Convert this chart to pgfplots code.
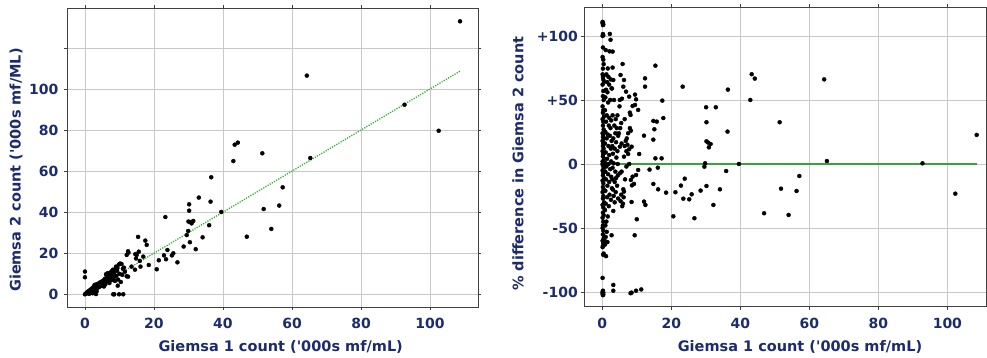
\documentclass[border=0pt]{standalone}
\usepackage{pgfplots}
\pgfplotsset{compat=1.18}
\usepackage{fontspec}
\setmainfont{DejaVu Sans}
\definecolor{navy}{RGB}{28,42,110}
\definecolor{gridc}{RGB}{200,200,200}
\definecolor{axc}{RGB}{64,64,64}
\definecolor{lgreen}{RGB}{50,175,50}
\definecolor{dgreen}{RGB}{60,160,60}

\begin{document}
\begin{tikzpicture}
\useasboundingbox (0,0) rectangle (987pt,358pt);
\pgfplotsset{
  every axis/.append style={
    scale only axis,
    anchor=south west,
    axis line style={axc, line width=0.9pt},
    grid=major,
    major grid style={gridc, line width=0.8pt},
    tick align=outside,
    major tick length=3pt,
    tick style={axc, line width=0.8pt},
    /pgf/number format/assume math mode=true,
    ticklabel style={font=\fontsize{14}{14}\selectfont\bfseries, text=navy},
    label style={font=\fontsize{14.5}{14.5}\selectfont\bfseries, text=navy},
    xticklabel style={yshift=-5pt},
    clip=false,
  },
}
% ---------------- left panel ----------------
\begin{axis}[
  at={(67pt,51pt)}, width=411pt, height=299pt,
  xmin=-5.2, xmax=113.9, ymin=-6.2, ymax=139.7,
  xtick={0,20,40,60,80,100},
  ytick={0,20,40,60,80,100,120},
  yticklabels={0,20,40,60,80,100,{}},
  yticklabel style={xshift=-2pt},
  xlabel={Giemsa 1 count (\textquotesingle000s mf/mL)},
  ylabel={Giemsa 2 count (\textquotesingle000s mf/ML)},
  xlabel style={at={(axis description cs:0.52,-0.134)}, anchor=center},
  ylabel style={at={(axis description cs:-0.124,0.458)}, anchor=center},
]
\addplot[lgreen, line width=1.3pt, dash pattern=on 1.2pt off 1.3pt] coordinates {(0,0) (108.7,108.9)};
\addplot[only marks, mark=*, mark size=2pt, mark options={fill=black, draw=black}] coordinates {
(108.7,133.2) (64.3,106.7) (92.6,92.5) (102.5,79.8) (65.3,66.5) (44.3,74.0) (43.4,73.0) (43.0,65.0)
(51.4,68.8) (36.6,57.1) (57.3,52.2) (56.3,43.3) (51.8,41.6) (54.0,31.9) (46.9,28.1) (39.5,40.2)
(36.4,45.2) (36.0,33.7) (33.0,47.2) (30.2,43.9) (30.2,40.8) (30.0,35.5) (30.7,35.2) (31.4,35.8)
(30.9,34.6) (29.9,30.9) (29.5,28.9) (30.4,25.4) (34.1,27.8) (32.1,22.0) (28.6,23.3) (23.3,37.7)
(26.8,15.6) (25.6,20.0) (25.2,19.0) (23.9,21.6) (22.9,19.0) (23.5,17.1) (21.4,16.6) (20.8,12.2)
(18.5,14.3) (17.5,26.2) (17.9,24.1) (15.4,28.0) (15.6,20.8) (16.9,18.4) (14.6,19.6) (15.0,19.2)
(14.8,17.5) (15.9,16.3) (16.1,13.5) (12.5,21.0) (12.6,20.3) (12.1,19.2) (12.1,8.8) (12.5,8.6)
(11.1,0) (9.9,0) (8.2,0) (8.5,0) (13.5,13.5) (14.5,12.0) (0,11.1) (0,8.3) (0,0)
(0.2,0.3) (0.4,0.5) (0.5,0.8) (0.7,0.6) (0.8,1.2) (1.0,1.5) (1.1,0.9) (1.3,1.8) (1.5,1.2)
(1.6,2.3) (1.8,2.0) (2.0,2.8) (2.1,1.7) (2.3,3.2) (2.5,2.4) (2.6,3.8) (2.8,4.6) (3.0,3.5)
(3.1,2.3) (3.2,0.1) (3.3,4.8) (3.5,4.0) (3.6,3.0) (3.8,5.2) (4.0,4.5) (4.2,3.6) (4.4,5.8)
(4.6,4.3) (4.8,6.2) (5.0,5.0) (5.2,4.1) (5.4,6.8) (5.6,5.5) (5.8,7.6) (6.0,6.2) (6.1,9.8)
(6.3,8.2) (6.5,6.6) (6.6,10.3) (6.8,7.4) (7.0,9.0) (7.1,5.5) (7.3,10.5) (7.5,8.2) (7.7,11.2)
(7.8,7.0) (8.0,9.5) (8.1,12.0) (8.3,8.0) (8.5,10.8) (8.7,6.5) (8.9,12.5) (9.1,9.0) (9.3,11.5)
(9.5,4.2) (9.6,7.2) (9.8,14.5) (10.0,10.0) (10.2,15.0) (10.4,6.0) (10.6,14.8) (10.8,9.5)
(11.0,12.5) (11.3,13.0) (11.6,11.0) (1.2,0.2) (2.2,0.5) (4.5,5.0) (5.5,3.8) (6.9,8.5)
(9.0,13.5) (9.4,12.8) (3.4,1.5) (2.4,1.2) (5.9,4.8)
};
\end{axis}
% ---------------- right panel ----------------
\begin{axis}[
  at={(584.3pt,51.3pt)}, width=402.4pt, height=299.4pt,
  xmin=-5.2, xmax=111.4, ymin=-111.5, ymax=122.4,
  xtick={0,20,40,60,80,100},
  ytick={-100,-50,0,50,100},
  yticklabels={-100,-50,0,+50,+100},
  xlabel={Giemsa 1 count (\textquotesingle000s mf/mL)},
  ylabel={\% difference in Giemsa 2 count},
  xlabel style={at={(axis description cs:0.536,-0.135)}, anchor=center},
  ylabel style={at={(axis description cs:-0.165,0.478)}, anchor=center},
]
\addplot[dgreen, line width=1.3pt] coordinates {(0,0) (108.7,0)};
\addplot[only marks, mark=*, mark size=2pt, mark options={fill=black, draw=black}] coordinates {
(0.1,111) (0.2,110.5) (0.1,110) (0.3,109) (0.2,108.5) (0.2,101.5) (0.3,100.5) (0.1,100) (0.2,91)
(0.1,83.5) (0.3,81.5) (0.4,78) (0.2,74.5) (0.1,70) (0.4,69) (0.2,68) (0.3,66) (0.5,64) (0.1,62)
(0.3,57) (0.2,53) (0.4,50) (0.1,45) (0.3,42) (0.2,40) (0.5,37) (0.1,35) (0.3,33) (0.2,30) (0.4,27)
(0.1,24) (0.3,23) (0.2,21) (0.5,20) (0.1,18) (0.3,16) (0.2,14) (0.4,12) (0.1,10) (0.3,8) (0.2,6)
(0.5,4) (0.1,2) (0.3,1) (0.1,0) (0.3,0) (0.5,0) (0.2,-1) (0.4,-3) (0.1,-5) (0.3,-7) (0.2,-9)
(0.5,-11) (0.1,-13) (0.3,-15) (0.2,-18) (0.4,-20) (0.1,-22) (0.3,-25) (0.2,-27) (0.5,-30) (0.1,-32)
(0.3,-34) (0.2,-38) (0.4,-40) (0.1,-42) (0.3,-45) (0.2,-48) (0.1,-50) (0.3,-52) (0.2,-55) (0.4,-58)
(0.1,-60) (0.3,-62) (0.2,-64) (0.1,-65) (0.4,-70) (0.3,-71) (0.1,-89) (0.2,-99) (0.1,-100)
(0.3,-100.5) (0.2,-101) (0.1,-101.5) (0.3,-102) (0.2,-102.5)
(1.0,89) (2.1,88) (2.2,101.6) (2.4,97) (1.6,74.6) (1.2,70) (1.8,68) (2.5,66) (1.4,64) (2.0,62)
(1.1,58) (2.8,59) (1.5,56) (0.9,52) (2.3,50) (1.7,48) (0.8,42) (1.3,38) (2.0,36) (2.6,34) (1.1,33)
(1.9,30) (2.4,28) (0.9,25) (1.6,23) (2.2,22) (1.3,20) (2.7,18) (0.8,16) (1.8,14) (2.5,12) (1.0,9)
(2.0,7) (1.4,4) (2.6,2) (0.8,1) (1.8,0) (1.2,-2) (2.3,-4) (0.9,-6) (1.7,-8) (2.6,-10) (1.1,-12)
(2.0,-14) (1.5,-17) (2.8,-19) (0.9,-21) (2.1,-24) (1.4,-26) (2.5,-28) (1.0,-31) (1.9,-33) (0.8,-36)
(1.6,-41) (1.2,-45) (0.9,-48) (1.3,-53) (1.0,-57) (0.7,-60) (1.5,-61) (0.8,-63) (1.1,-72)
(3.0,87.8) (3.0,75.3) (3.2,65.6) (2.7,59) (3.4,50) (4.4,38) (3.9,35) (3.0,38) (3.5,30) (4.2,28)
(3.8,24) (4.6,22) (3.2,20) (4.0,17) (2.9,14) (3.6,12) (4.4,10) (3.1,8) (4.1,5) (3.3,0.5) (4.5,0)
(3.0,-3) (3.8,-6) (4.5,-9) (2.9,-12) (3.6,-14) (4.3,-17) (3.1,-20) (3.9,-22) (3.3,-25) (4.6,-27)
(3.2,-36.7) (2.7,-55.7) (3.2,-94.5) (3.2,-99) (3.6,-30) (4.0,-11)
(5.9,78.1) (5.3,69.5) (6.3,65.6) (6.1,60.4) (6.9,56.5) (7.8,52.6) (9.5,54.2) (9.8,50.5) (10.4,42.2)
(8.8,45.3) (9.5,46.1) (8.0,40.1) (8.2,38.3) (5.1,50) (5.7,51) (8.0,28) (8.3,26) (7.5,24) (7.1,20)
(6.5,14) (7.8,11.5) (8.5,13.5) (5.1,13.5) (5.6,16) (6.3,5.7) (7.5,7.8) (10.7,7.8) (7.8,0)
(10.4,-4.7) (9.8,-8.6) (8.8,-9.9) (8.3,-12.5) (9.2,-15.6) (8.6,-16.7) (5.1,-7.3) (5.6,-6)
(6.1,-19.8) (6.3,-21.6) (5.5,-24) (6.2,-26) (5.3,-29) (6.0,-31) (5.8,-33) (8.5,-29.7) (12.1,-29.4)
(12.5,-32) (10.0,-43.2) (9.4,-55.7) (8.2,-101) (8.5,-100.5) (9.8,-99) (11.3,-98) (7.0,10) (7.3,15)
(6.8,18) (5.2,28) (5.5,32) (6.5,35) (4.8,24) (5.0,45) (7.0,-2) (6.6,-12)
(15.4,76.8) (23.3,60.4) (12.4,66.9) (12.4,60.4) (17.4,49.5) (17.7,35.9) (14.8,33.6) (15.8,33.1)
(15.1,27.1) (14.8,19.0) (12.1,22.1) (15.4,4.4) (17.2,4.4) (16.1,-2.9) (13.7,-4.4) (14.8,-15.6)
(16.2,-19.8) (18.5,-22.4) (21.2,-22.1) (22.8,-16.9) (23.9,-11.5) (23.5,-27.1) (25.2,-27.6)
(25.9,-23.7) (20.6,-40.9) (26.7,-42.4) (28.5,-20.8) (30.1,44.3) (30.2,32.6) (32.9,44.3)
(30.2,17.7) (30.7,16.7) (31.4,15.6) (30.9,13.0) (29.8,0.5) (29.6,-2.1) (30.2,-17.2) (32.2,-32.0)
(34.1,-19.8) (36.4,58.1) (36.3,25.3) (35.9,-5.5) (39.6,0) (43.3,70.1) (44.2,66.7) (42.9,50.0)
(46.9,-38.5) (51.4,32.6) (51.8,-19.3) (54.0,-39.8) (56.3,-21.1) (57.1,-9.4) (64.3,66.1) (65.1,2.3)
(92.8,0.5) (102.3,-23.2) (108.5,22.7)
};
\end{axis}
\end{tikzpicture}
\end{document}
